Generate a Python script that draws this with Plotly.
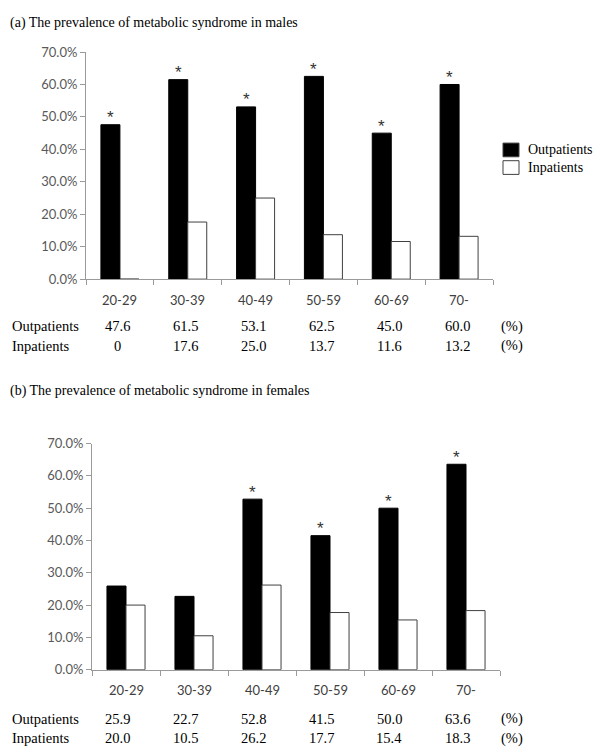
import plotly.graph_objects as go

# ---- data ----
age_groups = ["20-29", "30-39", "40-49", "50-59", "60-69", "70-"]
male_out = [47.6, 61.5, 53.1, 62.5, 45.0, 60.0]
male_in = [0, 17.6, 25.0, 13.7, 11.6, 13.2]
male_sig = [True, True, True, True, True, True]
female_out = [25.9, 22.7, 52.8, 41.5, 50.0, 63.6]
female_in = [20.0, 10.5, 26.2, 17.7, 15.4, 18.3]
female_sig = [False, False, True, True, True, True]
y_ticks = [0, 10, 20, 30, 40, 50, 60, 70]
y_tick_text = ["0.0%", "10.0%", "20.0%", "30.0%", "40.0%", "50.0%", "60.0%", "70.0%"]
series_names = ["Outpatients", "Inpatients"]
titles = ["(a) The prevalence of metabolic syndrome in males",
          "(b) The prevalence of metabolic syndrome in females"]

W, H = 600, 756
SERIF = "Liberation Serif, Times New Roman, serif"
SANS = "Lato, Liberation Sans, Arial, sans-serif"
AXC = "#9a9a9a"
LBL = "#404040"
BARGAP = 0.44


def px(x):
    return x / W


def py(y):
    return 1 - y / H


def fmt(v):
    return "0" if v == 0 else f"{v:.1f}"


fig = go.Figure()

panels = [
    dict(out=male_out, inn=male_in, sig=male_sig, xa="x", ya="y",
         xdom=(86, 493), ydom=(277, 45), title_y=15, cat_y=298, row_y=(325, 345)),
    dict(out=female_out, inn=female_in, sig=female_sig, xa="x2", ya="y2",
         xdom=(92, 500), ydom=(676, 445), title_y=391, cat_y=697, row_y=(726, 746)),
]

annotations = []
for k, p in enumerate(panels):
    fig.add_trace(go.Bar(x=age_groups, y=p["out"], name=series_names[0],
                         marker=dict(color="black", line=dict(color="black", width=1)),
                         xaxis=p["xa"], yaxis=p["ya"], showlegend=False, hoverinfo="skip"))
    fig.add_trace(go.Bar(x=age_groups, y=p["inn"], name=series_names[1],
                         marker=dict(color="white", line=dict(color="#404040", width=1)),
                         xaxis=p["xa"], yaxis=p["ya"], showlegend=False, hoverinfo="skip"))
    suffix = "" if k == 0 else "2"
    axis_common = dict(showline=True, linecolor=AXC, linewidth=1, showgrid=False,
                       zeroline=False, ticks="outside", ticklen=5, tickcolor=AXC)
    fig.update_layout(**{
        "xaxis" + suffix: dict(domain=[px(p["xdom"][0]), px(p["xdom"][1])],
                               anchor="y" + suffix, type="category",
                               tickson="boundaries", showticklabels=False,
                               **axis_common),
        "yaxis" + suffix: dict(domain=[py(p["ydom"][0]), py(p["ydom"][1])],
                               anchor="x" + suffix, range=[0, 70],
                               tickvals=y_ticks, ticktext=y_tick_text,
                               tickfont=dict(family=SANS, size=13, color="#595959"),
                               **axis_common),
    })
    # title
    annotations.append(dict(text=titles[k], xref="paper", yref="paper",
                            x=px(8), y=py(p["title_y"]), xanchor="left", yanchor="middle",
                            showarrow=False, font=dict(family=SERIF, size=14, color="black")))
    # category labels
    for i, g in enumerate(age_groups):
        annotations.append(dict(text=g, xref=p["xa"], yref="paper", x=i, y=py(p["cat_y"]),
                                xanchor="center", yanchor="middle", showarrow=False,
                                font=dict(family=SANS, size=13, color=LBL)))
    # significance asterisks
    for i, (v, s) in enumerate(zip(p["out"], p["sig"])):
        if s:
            annotations.append(dict(text="*", xref=p["xa"], yref=p["ya"],
                                    x=i - (1 - BARGAP) / 4, y=v, yshift=7,
                                    xanchor="center", yanchor="middle", showarrow=False,
                                    font=dict(family="Liberation Sans, Arial, sans-serif",
                                              size=17, color="#333333")))
    # table rows
    for r, (name, vals) in enumerate(zip(series_names, [p["out"], p["inn"]])):
        yy = py(p["row_y"][r])
        annotations.append(dict(text=name, xref="paper", yref="paper", x=px(10), y=yy,
                                xanchor="left", yanchor="middle", showarrow=False,
                                font=dict(family=SERIF, size=14.5, color="black")))
        for i, v in enumerate(vals):
            annotations.append(dict(text=fmt(v), xref="x", yref="paper", x=i, y=yy,
                                    xshift=-2, xanchor="center", yanchor="middle",
                                    showarrow=False,
                                    font=dict(family=SERIF, size=14.5, color="black")))
        annotations.append(dict(text="(%)", xref="paper", yref="paper", x=px(512), y=yy,
                                xanchor="center", yanchor="middle", showarrow=False,
                                font=dict(family=SERIF, size=14.5, color="black")))

# legend (manual)
shapes = []
leg_items = [(series_names[0], "black", 138), (series_names[1], "white", 156)]
for name, col, top in leg_items:
    shapes.append(dict(type="rect", xref="paper", yref="paper",
                       x0=px(503), x1=px(519), y0=py(top + 14), y1=py(top),
                       fillcolor=col, line=dict(color="#404040", width=1)))
    annotations.append(dict(text=name, xref="paper", yref="paper", x=px(526),
                            y=py(top + 7), xanchor="left", yanchor="middle",
                            showarrow=False, font=dict(family=SERIF, size=14, color="black")))

fig.update_layout(width=W, height=H, margin=dict(l=0, r=0, t=0, b=0),
                  paper_bgcolor="white", plot_bgcolor="white",
                  barmode="group", bargap=BARGAP, bargroupgap=0,
                  annotations=annotations, shapes=shapes, showlegend=False,
                  hovermode=False)

fig.write_html("out.html", config={"displayModeBar": False, "staticPlot": True},
               post_script="document.body.style.margin='0';document.body.style.overflow='hidden';")
